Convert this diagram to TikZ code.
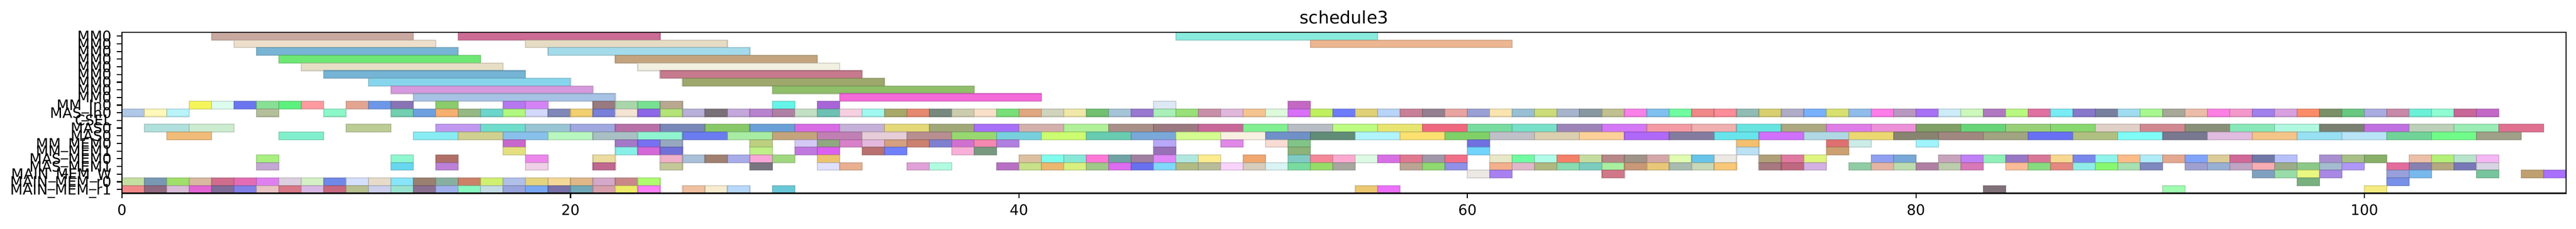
\documentclass[tikz,border=0pt]{standalone}
\usepackage{fontspec}
\setmainfont{DejaVu Sans}
\begin{document}
\begin{tikzpicture}[
                            bar/.style={fill=barc, draw=barc!75!black, draw opacity=0.5, line width=0.022cm},
                            spine/.style={draw=black, line width=0.0222cm},
                            ticklabel/.style={font=\fontsize{7.9}{9}\selectfont, inner sep=0pt},
                            titlelabel/.style={font=\fontsize{9.45}{11}\selectfont, inner sep=0pt}
                        ]
                        \useasboundingbox (0,0) rectangle (49.42,-4.38);
                        \begin{scope}[shift={(2.34,-0.693)}, x=0.4302cm, y=-0.1469cm]
                        % Long bars
                        \foreach \r/\a/\b/\c in {
                            0/4/13/C9A8A0, 0/15/24/CC6B94, 0/47/56/88EBDD,
                            1/5/14/EEDFCC, 1/18/27/E6DCC4, 1/53/62/ECB690,
                            2/6/15/78B4D4, 2/19/28/A3DBEA,
                            3/7/16/6DE874, 3/22/31/C3A47F,
                            4/8/17/E7DFC5, 4/23/32/F2F0E0,
                            5/9/18/75B4D5, 5/24/33/C77A8E,
                            6/11/20/86D5EC, 6/25/34/9EA86C,
                            7/12/21/D599DD, 7/29/38/8FBF69,
                            8/13/22/A6C3E6, 8/32/41/F46AD9,
                            12/1/3/B0E0DC, 12/3/5/CCECCF, 12/10/12/BCCC94, 12/14/16/C098F0, 12/16/18/70DCCC,
                            12/18/20/98C4D4, 12/20/22/A0A8E0, 12/22/24/B870A8, 12/24/26/7888B8, 12/26/28/88C868,
                            12/28/30/6AA0D8, 12/30/32/D86CE4, 12/32/34/C4B0D8, 12/34/36/E4D878, 12/36/38/A0A878,
                            12/38/40/A870F8, 12/40/42/D4B0AC, 12/42/44/B0F098, 12/44/46/A89088, 12/46/48/9C7880,
                            12/48/50/C86898, 12/50/52/80F090, 12/52/54/B8BCC4, 12/54/56/BCFC80, 12/56/58/E8E470,
                            12/58/60/F06880, 12/60/62/78DCA0, 12/62/64/78E0C8, 12/64/66/9C84B8, 12/66/68/D478F8,
                            12/68/70/F49AA4, 12/70/72/F0B0B0, 12/72/74/68E4E0, 12/74/76/ACA880, 12/76/78/E07CE8,
                            12/78/80/EC90D8, 12/80/82/80A068, 12/82/84/68D478, 12/84/86/98D078, 12/86/88/88D870,
                            12/88/90/E0D0C8, 12/90/92/D08890, 12/92/94/889078, 12/94/96/88E8B8, 12/96/98/B0F8E0,
                            12/98/100/7A8070, 12/100/102/C070E0, 12/102/104/BCD0B8, 12/104/106/98ECB4, 12/106/108/E07090,
                            13/2/4/F0BC78, 13/7/9/80F0CC, 13/13/15/88ECF4, 13/15/17/D0D090, 13/17/19/88C0EC,
                            13/19/21/B8F8C0, 13/21/23/A8C0C4, 13/23/25/90F4D0, 13/25/27/6A7CF0, 13/27/29/A8ECA4,
                            13/29/31/C4A47C, 13/31/33/C080B4, 13/33/35/E6CDD8, 13/35/37/B88E90, 13/37/39/98D870,
                            13/39/41/78D0DC, 13/41/43/CCFC70, 13/43/45/68CCB0, 13/45/47/7AA8D8, 13/47/49/D4FC90,
                            13/49/51/F8F0E0, 13/51/53/7090C8, 13/53/55/608C78, 13/55/57/B0F4FC, 13/57/59/FCE070,
                            13/59/61/80D068, 13/61/63/C0C0C8, 13/63/65/DCCFB0, 13/65/67/FCD098, 13/67/69/B068F8,
                            13/69/71/847CA0, 13/71/73/68E4EC, 13/73/75/D070FC, 13/75/77/B0D8E4, 13/77/79/ECD870,
                            13/79/81/888470, 13/81/83/A08880, 13/83/85/A0A480, 13/85/87/6870F4, 13/87/89/B0C080,
                            13/89/91/80FCF8, 13/91/93/787890, 13/93/95/E0BCE0, 13/95/97/F4C488, 13/97/99/98E0F4,
                            13/99/101/B8E4F8, 13/101/103/70D498, 13/103/105/70FC88, 13/105/107/A0A088}
                            {\definecolor{barc}{HTML}{\c}\draw [bar] (\a,\r-0.5) rectangle (\b,\r+0.5);}
                        % Unit bars
                        \foreach \r/\a/\c in {
                            9/3/F5F55A, 9/4/DCFDEE, 9/5/6B75EF, 9/6/88E095, 9/7/5EF07E, 9/8/FF9AA0, 9/10/E3A592,
                            9/11/6C97E8, 9/12/8874B4, 9/14/8ACB6C, 9/17/B678EF, 9/18/D483F6, 9/21/997A80, 9/22/A9D5AB,
                            9/23/78E092, 9/24/B8A890, 9/29/64F5E8, 9/31/A865D8, 9/46/DDE8F5, 9/52/C468C4,
                            10/0/B0C8E8, 10/1/FFF8B8, 10/2/B8F4FA, 10/6/B4C09A, 10/9/8CF7C8, 10/12/70D0B0, 10/13/6EA0E0,
                            10/14/F8B070, 10/15/96B884, 10/16/6CD5CC, 10/17/B0F880, 10/18/D4D8FA, 10/19/8088B8,
                            10/20/F2D070, 10/21/7880D8, 10/22/F4E4D4, 10/23/8C68E8, 10/24/B4E478, 10/25/B8B0D8,
                            10/26/7A7078, 10/27/C4A8DC, 10/28/B884D0, 10/29/B080A4, 10/30/C4E0C4, 10/31/6CC0B4,
                            10/32/F6D0E0, 10/33/A0F8F0, 10/34/A8A868, 10/35/E68870, 10/36/788A80, 10/37/CCCCB0,
                            10/38/F8E0C8, 10/39/78E078, 10/40/E0A880, 10/41/D0D4BC, 10/42/F0E8A8, 10/43/70C070,
                            10/44/A4C4D8, 10/45/9878D0, 10/46/A8F0B8, 10/47/98E078, 10/48/C890A8, 10/49/E0B8DC,
                            10/50/F6C490, 10/51/DDFADD, 10/52/D870F8, 10/53/C0F060, 10/54/6E7CFC, 10/55/E0D078,
                            10/56/B8D4F8, 10/57/C88098, 10/58/948090, 10/59/E8A4A0, 10/60/98A0D4, 10/61/FAE4B0,
                            10/62/98C0D4, 10/63/CCDC78, 10/64/A8B4CC, 10/65/8898A0, 10/66/C0C090, 10/67/F880E8,
                            10/68/80C0F0, 10/69/70FCA0, 10/70/F08888, 10/71/FC8C98, 10/72/90BCB4, 10/73/D8D070,
                            10/74/B0ACC8, 10/75/78B0FC, 10/76/D8E070, 10/77/90BCEC, 10/78/FC7CE8, 10/79/B898C0,
                            10/80/A870F4, 10/81/CCECF8, 10/82/CCF8BC, 10/83/B078C0, 10/84/B8F880, 10/85/E070A0,
                            10/86/78ECF4, 10/87/8878CC, 10/88/7880A0, 10/89/A0DCF0, 10/90/A8F890, 10/91/A8A898,
                            10/92/ECBCA8, 10/93/FC80E4, 10/94/F498CC, 10/95/A080EC, 10/96/D8A0E0, 10/97/FC8C68,
                            10/98/7C9068, 10/99/68C880, 10/100/A8ACE0, 10/101/C888A8, 10/102/6CF0D8, 10/103/90FCD4,
                            10/104/C86898, 10/105/C468C8,
                            14/17/C868CC, 14/22/A478C8, 14/23/7870F0, 14/24/98A8C0, 14/28/BCD080, 14/30/D4C8F4,
                            14/31/90A880, 14/32/D880C8, 14/33/E4B8DC, 14/34/D4A080, 14/35/CC8070, 14/36/8080D0,
                            14/37/D070D0, 14/38/F488B0, 14/39/B080E0, 14/46/B8A8F8, 14/49/E088E8, 14/51/F8DCD4,
                            14/52/80C488, 14/60/7070E0, 14/72/F4C070, 14/76/E07070, 14/77/CCECE8, 14/80/A0F4FC,
                            15/17/E4E080, 15/22/88F0E8, 15/23/D468D8, 15/24/7070D8, 15/28/C0F088, 15/30/C078E0,
                            15/31/DC60F0, 15/33/B87070, 15/34/7080FC, 15/37/F8B0D8, 15/38/789880, 15/46/9870B8,
                            15/52/8CB478, 15/60/70D4FC, 15/72/BCE0F4, 15/76/CCA070,
                            16/6/A8F080, 16/12/90F8D0, 16/14/B07068, 16/18/EC88EC, 16/21/ECDCA0, 16/24/F0B0C8,
                            16/25/A8C0D8, 16/26/A08070, 16/27/A8ACE8, 16/28/F8A8D8, 16/29/A0D880, 16/31/ECC470,
                            16/40/DCC0A0, 16/41/80FCEC, 16/42/88E8D8, 16/43/FF78D8, 16/44/70A4A4, 16/45/A080A0,
                            16/46/E088F8, 16/47/B0E8E0, 16/48/FCEC90, 16/50/F0A870, 16/52/80CCC4, 16/53/F48898,
                            16/54/FCAAD0, 16/55/DCFAE4, 16/56/D870E4, 16/57/E07890, 16/58/A098A8, 16/59/F07088,
                            16/61/E8E8C8, 16/62/70FCA0, 16/63/B0FCE8, 16/64/F48068, 16/65/C4DCA0, 16/66/B88888,
                            16/67/A09488, 16/68/D4A8A8, 16/69/E0FCB0, 16/70/68C4E8, 16/71/ECE8E4, 16/73/B0A078,
                            16/74/E07AA0, 16/75/E0F480, 16/78/90A0F0, 16/79/78A8D8, 16/81/C8A4BC, 16/82/C080F8,
                            16/83/90F0B8, 16/84/9878C4, 16/85/D87898, 16/86/F8D890, 16/87/7888EC, 16/88/90F4EC,
                            16/89/FCBC88, 16/90/B0ECF8, 16/91/E4A890, 16/92/80A4FC, 16/93/DCCC98, 16/94/D06898,
                            16/95/7078A8, 16/96/B8C0FC, 16/98/A890D0, 16/99/A8C088, 16/100/88B068, 16/102/ECC0A8,
                            16/103/B4F078, 16/104/B8E4CC, 16/105/F4B8F4,
                            17/6/C4A8D4, 17/12/68D8F0, 17/14/BC80D8, 17/18/F0D0E8, 17/21/C06890, 17/24/C4C898,
                            17/28/787480, 17/31/E0E0FC, 17/32/E8B090, 17/35/E0A0D8, 17/36/B0FCE0, 17/39/B870C4,
                            17/40/C8E088, 17/41/ECB870, 17/42/D8F080, 17/43/A0C888, 17/44/DC6CF0, 17/45/6870F0,
                            17/46/80D8FC, 17/47/B0BC84, 17/48/B8BC98, 17/49/F8D4FC, 17/50/D8CCBC, 17/51/D8F4F4,
                            17/52/78DCA0, 17/53/98DC68, 17/54/A8A8A0, 17/57/BCA494, 17/58/90D870, 17/59/9090E8,
                            17/61/F4B08C, 17/62/E0B8CC, 17/63/B0B880, 17/64/88DCB0, 17/65/7CCCC0, 17/66/A8F0A0,
                            17/67/C89878, 17/68/E8C878, 17/69/A8BCB0, 17/70/C8D8B8, 17/71/F8C878, 17/73/A87880,
                            17/74/C06880, 17/75/D4B0E4, 17/77/90CCA4, 17/78/E4B4A4, 17/79/BCDCB0, 17/80/B080A4,
                            17/81/BCCCAC, 17/82/D878B8, 17/84/FCBC98, 17/85/88DC80, 17/86/E48880, 17/87/90ECE8,
                            17/88/88F870, 17/89/A8E0B0, 17/90/8088C0, 17/92/A0A0D0, 17/93/98B0D4, 17/94/C0A4C4,
                            17/95/F8ACB4, 17/96/9CAC88, 17/97/8CC888, 17/98/A4BCD0, 17/99/B098F8, 17/101/E46C9C,
                            17/102/8880B0, 17/103/B4A880, 17/104/7878B8, 17/105/D8D4E4,
                            18/60/ECE8E4, 18/61/A880F0, 18/66/D07888, 18/95/80A0C0, 18/96/98DCA8, 18/97/E8F880,
                            18/98/A888E4, 18/101/98A0DC, 18/102/78B8EC, 18/105/78C49C, 18/107/C0A070, 18/108/A870FC,
                            19/0/C4E0A0, 19/1/7898B4, 19/2/A0E068, 19/3/D8B8A0, 19/4/D06C8C, 19/5/E46CB4, 19/6/E080F0,
                            19/7/DCD0E0, 19/8/D4F0C4, 19/9/7088E8, 19/10/D4E0FC, 19/11/E8DCC8, 19/12/88E4F8,
                            19/13/9A8070, 19/14/88B0A0, 19/15/CC8068, 19/16/D0F070, 19/17/B0C0E8, 19/18/E4D480,
                            19/19/F4D898, 19/20/E0B888, 19/21/D4A8C8, 19/22/C88888, 19/23/B0FC70, 19/97/78B080,
                            19/101/7890E8,
                            20/0/F08888, 20/1/906880, 20/2/D8BCD8, 20/3/E464D4, 20/4/806C98, 20/5/8080E8, 20/6/E8C4C4,
                            20/7/D87888, 20/8/D8B8E4, 20/9/C86880, 20/10/B8C090, 20/11/CCD0EC, 20/12/98E4D0,
                            20/13/8A7090, 20/14/A0B0EC, 20/15/88F8C0, 20/16/C4DCE4, 20/17/98A4DC, 20/18/78A8F4,
                            20/19/7870A8, 20/20/70A8B8, 20/21/D8A0AC, 20/22/ECEC68, 20/23/FC80F8, 20/25/F0C0A0,
                            20/26/F8ECD0, 20/27/B8D8FC, 20/29/68C8D8, 20/55/ECC870, 20/56/EC70FC, 20/83/807078,
                            20/91/A0FCB0, 20/100/F4EC80}
                            {\definecolor{barc}{HTML}{\c}\draw [bar] (\a,\r-0.5) rectangle (\a+1,\r+0.5);}

                        % Axes
                        \draw [spine] (0,-0.5) rectangle (109,20.5);
                        \foreach \t in {0,20,...,100} {
                            \draw [spine] (\t,20.5) -- ++(0,-0.097cm);
                            \node [ticklabel, anchor=base] (xl\t) at ([yshift=-0.416cm]\t,20.5) {\t};
                        }
                        \foreach \r/\name in {0/MM0, 1/MM0, 2/MM0, 3/MM0, 4/MM0, 5/MM0, 6/MM0, 7/MM0, 8/MM0,
                            9/MM\_In0, 10/MAS\_In0, 11/CSEL, 12/MAS0, 13/MAS0, 14/MM\_MEM0, 15/MM\_MEM1,
                            16/MAS\_MEM0, 17/MAS\_MEM1, 18/MAIN\_MEM\_W, 19/MAIN\_MEM\_r0, 20/MAIN\_MEM\_r1} {
                            \draw [spine] (0,\r) -- ++(-0.097cm,0);
                            \node [ticklabel, anchor=base east] (yl\r) at ([xshift=-0.194cm, yshift=-0.101cm]0,\r) {\name};
                        }
                        \node [titlelabel, anchor=base] (title) at ([yshift=0.167cm]54.5,-0.5) {schedule3};
                        \end{scope}
                    \end{tikzpicture}
\end{document}
